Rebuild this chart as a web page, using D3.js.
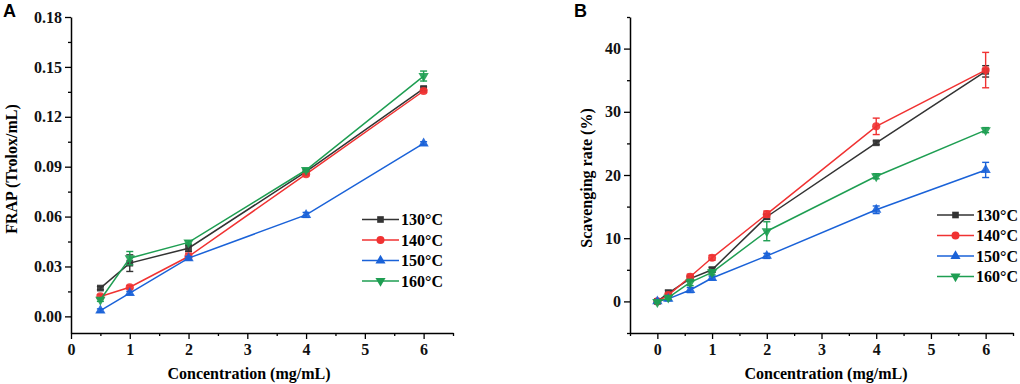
<!DOCTYPE html>
<html>
<head>
<meta charset="utf-8">
<script src="https://cdn.jsdelivr.net/npm/d3@7"></script>
<style>
  body { margin: 0; background: #fff; }
</style>
</head>
<body>
<div id="chart"></div>
<script>
// Series names and colours
const seriesNames = ["130\u00b0C", "140\u00b0C", "150\u00b0C", "160\u00b0C"];
const colors = ["#333333", "#f03232", "#1a62d8", "#1e9e52"];
const symbols = [d3.symbolSquare, d3.symbolCircle, d3.symbolTriangle, "down"];
const serif = "'Liberation Serif', 'Times New Roman', 'DejaVu Serif', serif";

// Panel A: FRAP
const concA = [0.5, 1, 2, 4, 6];
const frap130 = [0.017, 0.032, 0.041, 0.087, 0.137];
const frap140 = [0.012, 0.0175, 0.036, 0.0855, 0.1355];
const frap150 = [0.0035, 0.014, 0.035, 0.061, 0.104];
const frap160 = [0.010, 0.035, 0.0445, 0.088, 0.1445];
const frapErr130 = [0.001, 0.005, 0.002, 0.001, 0.001];
const frapErr140 = [0.001, 0.001, 0.002, 0.001, 0.001];
const frapErr150 = [0.001, 0.001, 0.001, 0.0015, 0.001];
const frapErr160 = [0.001, 0.004, 0.001, 0.001, 0.003];

// Panel B: scavenging rate
const concB = [0, 0.2, 0.6, 1, 2, 4, 6];
const scav130 = [0, 1.3, 3.6, 5.0, 13.4, 25.1, 36.4];
const scav140 = [0, 1.0, 3.9, 6.9, 13.8, 27.7, 36.6];
const scav150 = [0, 0.4, 1.8, 3.7, 7.2, 14.5, 20.8];
const scav160 = [-0.1, 0.6, 3.0, 4.6, 11.1, 19.8, 27.1];
const scavErr130 = [0.2, 0.5, 0.4, 0.4, 0.4, 0.3, 0.9];
const scavErr140 = [0.2, 0.3, 0.4, 0.4, 0.5, 1.3, 2.8];
const scavErr150 = [0.2, 0.3, 0.4, 0.3, 0.4, 0.6, 1.2];
const scavErr160 = [0.2, 0.3, 0.5, 0.4, 1.5, 0.4, 0.4];

const xTicks = [0, 1, 2, 3, 4, 5, 6];
const yTicksA = [0.00, 0.03, 0.06, 0.09, 0.12, 0.15, 0.18];
const yTicksB = [0, 10, 20, 30, 40];

const svg = d3.select("#chart").append("svg")
    .attr("width", 1020)
    .attr("height", 384);

function drawPanel(p) {
    const g = svg.append("g");
    const x = d3.scaleLinear().domain(p.xDomain).range(p.xRange);
    const y = d3.scaleLinear().domain(p.yDomain).range([333, 17]);

    // minor ticks
    const xMinor = d3.range(p.xDomain[0], p.xDomain[1] + 0.001, 0.5).filter(v => !xTicks.includes(v));

    g.append("g")
        .attr("transform", `translate(0,${y.range()[0]})`)
        .call(d3.axisBottom(x).tickValues(xMinor).tickSize(3).tickFormat(""))
        .call(a => a.select(".domain").remove())
        .selectAll("line").attr("stroke-width", 1.3);
    g.append("g")
        .attr("transform", `translate(${x.range()[0]},0)`)
        .call(d3.axisLeft(y).tickValues(p.yMinor).tickSize(3).tickFormat(""))
        .call(a => a.select(".domain").remove())
        .selectAll("line").attr("stroke-width", 1.3);

    const xAxis = g.append("g")
        .attr("transform", `translate(0,${y.range()[0]})`)
        .call(d3.axisBottom(x).tickValues(xTicks).tickSize(6).tickSizeOuter(0).tickPadding(5).tickFormat(d3.format("d")));
    xAxis.selectAll("text")
        .style("font-family", serif).style("font-weight", "bold")
        .style("font-size", "16px").attr("fill", "#111");
    xAxis.selectAll("line").attr("stroke-width", 1.3);
    xAxis.select(".domain").attr("stroke-width", 1.5);

    const yAxis = g.append("g")
        .attr("transform", `translate(${x.range()[0]},0)`)
        .call(d3.axisLeft(y).tickValues(p.yTicks).tickSize(6).tickSizeOuter(0).tickPadding(3).tickFormat(p.yFormat));
    yAxis.selectAll("text")
        .style("font-family", serif).style("font-weight", "bold")
        .style("font-size", "16px").attr("fill", "#111");
    yAxis.selectAll("line").attr("stroke-width", 1.3);
    yAxis.select(".domain").attr("stroke-width", 1.5);

    // axis titles
    g.append("text")
        .attr("x", p.xTitleX)
        .attr("y", 379)
        .attr("text-anchor", "middle")
        .style("font-family", serif).style("font-weight", "bold")
        .style("font-size", "16px")
        .text("Concentration (mg/mL)");
    g.append("text")
        .attr("transform", `translate(${p.yLabelX},${p.yLabelY}) rotate(-90)`)
        .attr("text-anchor", "middle")
        .style("font-family", serif).style("font-weight", "bold")
        .style("font-size", "16px")
        .text(p.yLabel);

    // panel letter
    g.append("text")
        .attr("x", p.letterX)
        .attr("y", 17)
        .style("font-family", "'Liberation Sans', Arial, sans-serif")
        .style("font-weight", "bold")
        .style("font-size", "18px")
        .text(p.letter);

    // series
    p.series.forEach((vals, i) => {
        const pts = p.conc.map((c, j) => ({ x: c, y: vals[j], e: p.errs[i][j] }));
        const sg = g.append("g");
        sg.append("path")
            .datum(pts)
            .attr("fill", "none")
            .attr("stroke", colors[i])
            .attr("stroke-width", 1.5)
            .attr("d", d3.line().x(d => x(d.x)).y(d => y(d.y)));

        // error bars
        const eb = sg.selectAll(".eb").data(pts).join("g")
            .attr("stroke", colors[i])
            .attr("stroke-width", 1.4);
        eb.append("line")
            .attr("x1", d => x(d.x)).attr("x2", d => x(d.x))
            .attr("y1", d => y(d.y - d.e)).attr("y2", d => y(d.y + d.e));
        eb.append("line")
            .attr("x1", d => x(d.x) - 3.5).attr("x2", d => x(d.x) + 3.5)
            .attr("y1", d => y(d.y + d.e)).attr("y2", d => y(d.y + d.e));
        eb.append("line")
            .attr("x1", d => x(d.x) - 3.5).attr("x2", d => x(d.x) + 3.5)
            .attr("y1", d => y(d.y - d.e)).attr("y2", d => y(d.y - d.e));

        const sym = symbols[i] === "down" ? d3.symbolTriangle : symbols[i];
        sg.selectAll(".pt").data(pts).join("path")
            .attr("transform", d => `translate(${x(d.x)},${y(d.y)})` + (symbols[i] === "down" ? " rotate(180)" : ""))
            .attr("d", d3.symbol(sym, i === 1 ? 52 : 46))
            .attr("fill", colors[i])
            .attr("opacity", 0.9);
    });

    // legend
    const lg = g.append("g");
    seriesNames.forEach((name, i) => {
        const ly = p.legendY + i * 20.5;
        lg.append("line")
            .attr("x1", p.legendX).attr("x2", p.legendX + 37)
            .attr("y1", ly).attr("y2", ly)
            .attr("stroke", colors[i]).attr("stroke-width", 1.5);
        const sym = symbols[i] === "down" ? d3.symbolTriangle : symbols[i];
        lg.append("path")
            .attr("transform", `translate(${p.legendX + 18.5},${ly})` + (symbols[i] === "down" ? " rotate(180)" : ""))
            .attr("d", d3.symbol(sym, i === 1 ? 50 : 44))
            .attr("fill", colors[i]);
        lg.append("text")
            .attr("x", p.legendX + 39)
            .attr("y", ly + 5.5)
            .style("font-family", serif).style("font-weight", "bold")
            .style("font-size", "16px")
            .text(name);
    });
}

drawPanel({
    letter: "A", letterX: 3,
    conc: concA,
    series: [frap130, frap140, frap150, frap160],
    errs: [frapErr130, frapErr140, frapErr150, frapErr160],
    xDomain: [0, 6.5], xRange: [71, 453],
    yDomain: [-0.01, 0.18],
    yTicks: yTicksA,
    yMinor: [0.015, 0.045, 0.075, 0.105, 0.135, 0.165],
    yFormat: d3.format(".2f"),
    xTitleX: 249,
    yLabel: "FRAP (Trolox/mL)", yLabelX: 17, yLabelY: 169,
    legendX: 362, legendY: 219.5
});

drawPanel({
    letter: "B", letterX: 574,
    conc: concB,
    series: [scav130, scav140, scav150, scav160],
    errs: [scavErr130, scavErr140, scavErr150, scavErr160],
    xDomain: [-0.5, 6.5], xRange: [630, 1013],
    yDomain: [-5, 45],
    yTicks: yTicksB,
    yMinor: [-5, 5, 15, 25, 35, 45],
    yFormat: d3.format("d"),
    xTitleX: 826,
    yLabel: "Scavenging rate (%)", yLabelX: 592, yLabelY: 178,
    legendX: 937, legendY: 215
});
</script>
</body>
</html>
